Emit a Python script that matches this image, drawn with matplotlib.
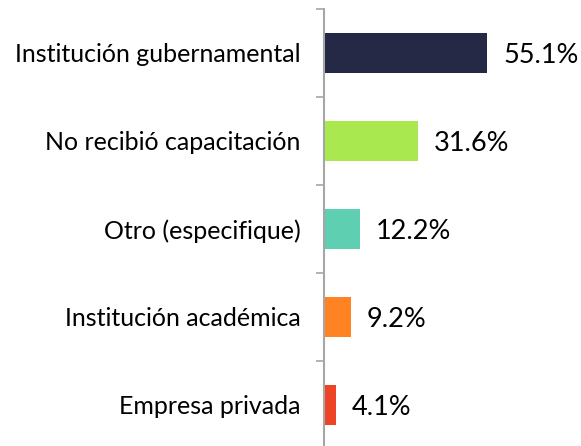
import matplotlib
matplotlib.use("Agg")
import matplotlib.pyplot as plt
import numpy as np

# datos (de arriba hacia abajo)
categorias = ["Institución gubernamental", "No recibió capacitación",
              "Otro (especifique)", "Institución académica", "Empresa privada"]
porcentajes = [55.1, 31.6, 12.2, 9.2, 4.1]
etiquetas = ["55.1%", "31.6%", "12.2%", "9.2%", "4.1%"]
colores = ["#252945", "#A9E94F", "#5ECFB1", "#FF8323", "#EE4326"]

plt.rcParams['font.family'] = ['Lato', 'DejaVu Sans']

W, H = 581, 446
fig = plt.figure(figsize=(W / 100, H / 100), dpi=100)
# eje vertical en x~324 px, de y=9 px hasta abajo
ax = fig.add_axes([323.7 / W, -3 / H, (W - 323.7) / W, 440 / H])

y = np.arange(len(categorias))
ax.barh(y, porcentajes, height=0.46, color=colores, zorder=2)
ax.set_ylim(len(categorias) - 0.5, -0.5)
ax.set_xlim(0, (W - 323.7) / 2.97)

for yi, v, t in zip(y, porcentajes, etiquetas):
    ax.annotate(t, (v, yi), xytext=(16 * 0.72, 0), textcoords="offset points",
                va="center_baseline", ha="left", fontsize=19.5, color="black")

# separadores entre categorias
ax.set_yticks(np.arange(-0.5, len(categorias), 1.0))
ax.set_yticklabels([])
ax.tick_params(axis="y", which="major", length=6, width=1.2, color="#A6A6A6", direction="out")
# nombres de categoria como ticks menores
ax.set_yticks(y, minor=True)
ax.set_yticklabels(categorias, minor=True, fontsize=18)
ax.tick_params(axis="y", which="minor", length=0, pad=23 * 0.72)

ax.set_xticks([])
for s in ["top", "right", "bottom"]:
    ax.spines[s].set_visible(False)
ax.spines["left"].set_color("#A6A6A6")
ax.spines["left"].set_linewidth(1.5)

fig.savefig("out.png", dpi=100)
